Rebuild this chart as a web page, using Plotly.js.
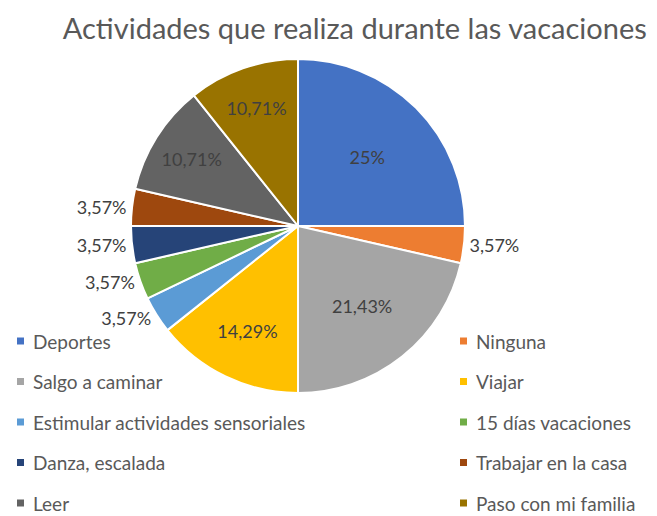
<!DOCTYPE html>
<html>
<head>
<meta charset="utf-8">
<script src="https://cdn.plot.ly/plotly-3.0.1.min.js"></script>
<style>html,body{margin:0;padding:0;background:#fff;}#chart{width:657px;height:516px;}</style>
</head>
<body>
<div id="chart"></div>
<script>
const categories = ["Deportes", "Ninguna", "Salgo a caminar", "Viajar", "Estimular actividades sensoriales", "15 días vacaciones", "Danza, escalada", "Trabajar en la casa", "Leer", "Paso con mi familia"];
const counts = [7, 1, 6, 4, 1, 1, 1, 1, 3, 3];
const colors = ["#4472C4", "#ED7D31", "#A5A5A5", "#FFC000", "#5B9BD5", "#70AD47", "#264478", "#9E480E", "#636363", "#997300"];

const W = 657, H = 516;
const total = counts.reduce((a, b) => a + b, 0);
const pctText = counts.map(v => {
  const p = Math.round(v / total * 10000) / 100;
  return String(p).replace('.', ',') + '%';
});
const positions = counts.map(v => v / total > 0.05 ? 'inside' : 'outside');

const FONT = 'Lato, sans-serif';

const trace = {
  type: 'pie',
  labels: categories,
  values: counts,
  text: pctText,
  textinfo: 'text',
  texttemplate: '%{text}',
  textposition: positions,
  insidetextorientation: 'horizontal',
  sort: false,
  direction: 'clockwise',
  rotation: 0,
  marker: { colors: colors, line: { color: '#ffffff', width: 2 } },
  textfont: { family: FONT, size: 18, color: '#404040' },
  insidetextfont: { family: FONT, size: 18, color: '#404040' },
  outsidetextfont: { family: FONT, size: 18, color: '#404040' },
  domain: { x: [(298 - 167) / W, (298 + 167) / W], y: [(H - 393) / H, (H - 59) / H] },
  hoverinfo: 'none',
  showlegend: false
};

// Legend drawn in two columns (Excel style), built from categories and colors
const shapes = [];
const annotations = [];
categories.forEach((c, i) => {
  const col = i % 2, row = Math.floor(i / 2);
  const mx = col === 0 ? 17 : 460;
  const cy = 341 + 40.5 * row;
  shapes.push({
    type: 'rect', xref: 'paper', yref: 'paper',
    x0: mx / W, x1: (mx + 7) / W, y0: 1 - (cy + 3.5) / H, y1: 1 - (cy - 3.5) / H,
    fillcolor: colors[i], line: { width: 0 }
  });
  annotations.push({
    text: c, xref: 'paper', yref: 'paper',
    x: (mx + 14) / W, y: 1 - cy / H, xanchor: 'left', yanchor: 'middle',
    showarrow: false,
    font: { family: FONT, size: 19, color: '#595959' }
  });
});

const layout = {
  width: W,
  height: H,
  margin: { l: 0, r: 0, t: 0, b: 0 },
  paper_bgcolor: '#ffffff',
  title: {
    text: 'Actividades que realiza durante las vacaciones',
    font: { family: FONT, size: 29, color: '#595959' },
    x: 0.54, xanchor: 'center', xref: 'paper',
    y: 1 - 29 / H, yanchor: 'middle', yref: 'container'
  },
  showlegend: false,
  shapes: shapes,
  annotations: annotations
};

Plotly.newPlot('chart', [trace], layout, { displayModeBar: false, staticPlot: true });
</script>
</body>
</html>
